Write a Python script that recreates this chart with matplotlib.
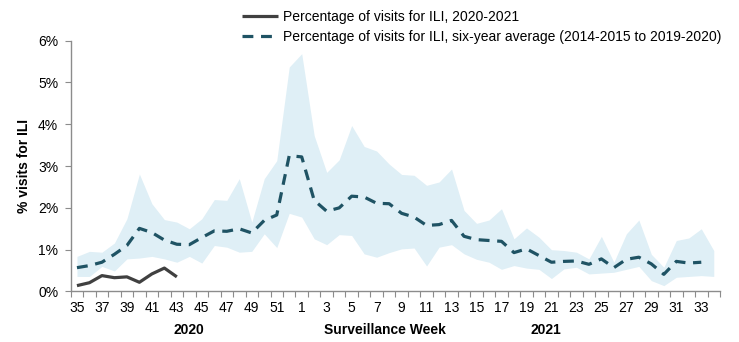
import matplotlib
matplotlib.use("Agg")
import matplotlib.pyplot as plt
from matplotlib.ticker import FixedLocator, FuncFormatter
import numpy as np

plt.rcParams["font.family"] = ["Liberation Sans", "DejaVu Sans"]

# surveillance weeks, 2020 wk 35 through 2021 wk 34
weeks = list(range(35, 53)) + list(range(1, 35))

# percentage of visits for ILI, 2020-2021 season (so far)
ili_current = [0.14, 0.21, 0.38, 0.33, 0.35, 0.22, 0.42, 0.56, 0.35]

# six-year average (2014-2015 to 2019-2020), ends at week 33
ili_avg = [0.57, 0.62, 0.70, 0.89, 1.10, 1.51, 1.41, 1.23, 1.13, 1.12, 1.29, 1.45, 1.44,
           1.50, 1.40, 1.70, 1.83, 3.25, 3.22, 2.18, 1.92, 2.00, 2.28, 2.26, 2.11, 2.10,
           1.87, 1.78, 1.58, 1.60, 1.70, 1.32, 1.24, 1.22, 1.20, 0.93, 1.02, 0.86, 0.70,
           0.72, 0.73, 0.65, 0.78, 0.57, 0.77, 0.82, 0.66, 0.41, 0.72, 0.68, 0.70]

# min / max range over the six seasons
ili_max = [0.84, 0.96, 0.94, 1.16, 1.74, 2.81, 2.10, 1.72, 1.66, 1.50, 1.74, 2.20, 2.18,
           2.70, 1.66, 2.70, 3.13, 5.37, 5.69, 3.73, 2.85, 3.15, 3.97, 3.47, 3.36, 3.05,
           2.80, 2.78, 2.54, 2.62, 2.93, 1.94, 1.63, 1.71, 1.98, 1.26, 1.52, 1.30, 1.00,
           0.98, 0.94, 0.78, 1.32, 0.70, 1.38, 1.71, 0.89, 0.58, 1.22, 1.28, 1.50, 0.98]
ili_min = [0.36, 0.36, 0.60, 0.49, 0.78, 0.80, 0.84, 0.78, 0.70, 0.84, 0.68, 1.10, 1.06,
           0.94, 0.96, 1.38, 1.05, 1.87, 1.78, 1.26, 1.12, 1.36, 1.34, 0.90, 0.82, 0.93,
           1.02, 1.04, 0.61, 1.06, 1.12, 0.90, 0.77, 0.70, 0.53, 0.62, 0.56, 0.53, 0.31,
           0.54, 0.58, 0.42, 0.44, 0.46, 0.53, 0.60, 0.26, 0.14, 0.34, 0.36, 0.38, 0.36]

BAND = "#dfeff6"
AVG = "#1f5364"
CUR = "#404040"
AXIS = "#8c8c8c"
FS = 10

x = np.arange(len(weeks))

fig = plt.figure(figsize=(7.39, 3.42), dpi=100)
ax = fig.add_axes([0.0957, 0.1477, 0.8786, 0.7333])

ax.fill_between(x, ili_min, ili_max, color=BAND, lw=0, zorder=1)
ax.plot(x[:len(ili_avg)], ili_avg, color=AVG, lw=2.3, ls=(0, (3.4, 2.4)),
        label="Percentage of visits for ILI, six-year average (2014-2015 to 2019-2020)", zorder=3)
ax.plot(x[:len(ili_current)], ili_current, color=CUR, lw=2.3, solid_capstyle="butt",
        label="Percentage of visits for ILI, 2020-2021", zorder=4)

ax.set_xlim(-0.5, len(weeks) - 0.5)
ax.set_ylim(0, 6)

for s in ("top", "right"):
    ax.spines[s].set_visible(False)
for s in ("left", "bottom"):
    ax.spines[s].set_color(AXIS)
    ax.spines[s].set_linewidth(1.0)

ax.set_yticks(np.arange(0, 7))
ax.yaxis.set_major_formatter(FuncFormatter(lambda v, _: f"{v:.0f}%"))
ax.tick_params(axis="y", length=4, color=AXIS, labelsize=FS, pad=5)

# tick marks between categories, labels on every other week
ax.xaxis.set_major_locator(FixedLocator(np.arange(-0.5, len(weeks))))
ax.xaxis.set_major_formatter(FuncFormatter(lambda v, _: ""))
ax.xaxis.set_minor_locator(FixedLocator(x[::2]))
ax.set_xticklabels([str(w) for w in weeks[::2]], minor=True)
ax.tick_params(axis="x", which="major", length=4, color=AXIS)
ax.tick_params(axis="x", which="minor", length=0, labelsize=FS, pad=7)

ax.set_ylabel("% visits for ILI", fontsize=FS, fontweight="bold", labelpad=5)

fig.text(189 / 739, 1 - 330 / 342, "2020", ha="center", va="center",
         fontsize=FS, fontweight="bold")
fig.text(385 / 739, 1 - 330 / 342, "Surveillance Week", ha="center", va="center",
         fontsize=FS, fontweight="bold")
fig.text(546 / 739, 1 - 330 / 342, "2021", ha="center", va="center",
         fontsize=FS, fontweight="bold")

handles, labels = ax.get_legend_handles_labels()
fig.legend(handles[::-1], labels[::-1], loc="upper left",
           bbox_to_anchor=(242 / 739, 1 - 10 / 342), frameon=False,
           fontsize=FS, handlelength=2.6, handletextpad=0.35,
           labelspacing=0.45, borderpad=0, borderaxespad=0)

fig.savefig("out.png", dpi=100)
